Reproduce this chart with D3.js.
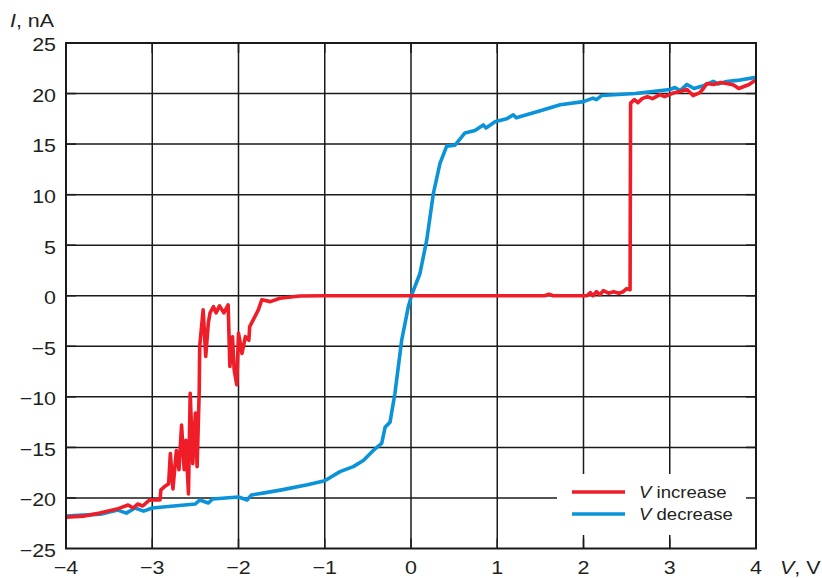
<!DOCTYPE html>
<html>
<head>
<meta charset="utf-8">
<script src="https://cdn.jsdelivr.net/npm/d3@7/dist/d3.min.js"></script>
<style>
  html, body { margin: 0; padding: 0; background: #fff; }
  svg { display: block; font-family: "Liberation Sans", Arial, Helvetica, sans-serif; }
</style>
</head>
<body>
<svg id="chart" width="822" height="578"></svg>
<script>
// Current–voltage sweep: forward (V increase) and reverse (V decrease) branches.
const xTicks = [-4, -3, -2, -1, 0, 1, 2, 3, 4];
const yTicks = [-25, -20, -15, -10, -5, 0, 5, 10, 15, 20, 25];

// V increase branch: V (volts) and I (nA)
const increaseV = [-4.0, -3.8, -3.61, -3.41, -3.28, -3.22, -3.17, -3.11, -3.046, -3.026, -2.95, -2.91, -2.90, -2.86, -2.81, -2.79, -2.76, -2.72, -2.69, -2.66, -2.63, -2.61, -2.58, -2.56, -2.53, -2.50, -2.48, -2.455, -2.45, -2.41, -2.38, -2.35, -2.33, -2.29, -2.26, -2.22, -2.17, -2.12, -2.10, -2.07, -2.05, -2.02, -2.0, -1.96, -1.92, -1.88, -1.87, -1.81, -1.77, -1.73, -1.63, -1.52, -1.29, -1.0, 0.0, 1.0, 1.55, 1.6, 1.65, 2.04, 2.08, 2.11, 2.15, 2.19, 2.23, 2.29, 2.35, 2.41, 2.46, 2.50, 2.54, 2.546, 2.59, 2.63, 2.68, 2.74, 2.80, 2.887, 2.94, 3.04, 3.12, 3.20, 3.27, 3.35, 3.39, 3.43, 3.51, 3.59, 3.66, 3.74, 3.80, 3.86, 3.92, 3.97, 4.0];
const increaseI = [-21.9, -21.8, -21.5, -21.1, -20.7, -21.0, -20.6, -20.8, -20.3, -20.2, -20.2, -20.2, -19.2, -18.9, -18.6, -15.6, -19.1, -15.3, -17.2, -12.8, -17.2, -14.3, -19.6, -9.65, -16.6, -11.6, -16.9, -9.3, -5.0, -1.4, -6.0, -2.7, -1.7, -1.08, -1.7, -1.0, -1.7, -0.9, -7.0, -4.05, -7.35, -8.8, -3.7, -5.7, -4.05, -4.4, -3.06, -2.07, -1.4, -0.4, -0.58, -0.25, -0.02, 0.0, 0.0, 0.0, 0.0, 0.15, 0.0, 0.0, 0.3, 0.0, 0.4, 0.1, 0.5, 0.25, 0.4, 0.25, 0.4, 0.7, 0.6, 19.05, 19.4, 19.1, 19.5, 19.7, 19.5, 19.9, 19.7, 20.05, 20.2, 20.4, 19.8, 20.1, 20.5, 21.0, 20.9, 21.1, 21.0, 20.85, 20.5, 20.7, 20.9, 21.2, 21.3];

// V decrease branch: V (volts) and I (nA)
const decreaseV = [-4.0, -3.8, -3.6, -3.4, -3.3, -3.2, -3.1, -3.0, -2.75, -2.5, -2.45, -2.35, -2.3, -2.0, -1.9, -1.85, -1.7, -1.5, -1.2, -1.0, -0.823, -0.669, -0.553, -0.437, -0.34, -0.30, -0.243, -0.186, -0.108, -0.031, 0.008, 0.104, 0.182, 0.259, 0.336, 0.414, 0.51, 0.626, 0.742, 0.838, 0.87, 0.974, 1.11, 1.186, 1.22, 1.3, 1.5, 1.73, 1.998, 2.11, 2.15, 2.21, 2.6, 3.003, 3.06, 3.12, 3.20, 3.28, 3.4, 3.505, 3.56, 3.66, 3.78, 4.0];
const decreaseI = [-21.8, -21.7, -21.6, -21.2, -21.5, -21.0, -21.3, -21.0, -20.8, -20.6, -20.2, -20.5, -20.1, -19.9, -20.2, -19.7, -19.5, -19.2, -18.7, -18.3, -17.4, -16.9, -16.3, -15.3, -14.6, -13.0, -12.5, -9.65, -4.4, -1.08, 0.08, 2.2, 5.5, 10.1, 13.1, 14.8, 14.9, 16.1, 16.35, 16.9, 16.6, 17.2, 17.5, 17.9, 17.6, 17.8, 18.3, 18.9, 19.2, 19.55, 19.4, 19.8, 20.0, 20.4, 20.6, 20.3, 20.9, 20.5, 20.8, 21.2, 20.95, 21.2, 21.3, 21.6];

const legendLabels = ["increase", "decrease"];
const colors = ["#ee1d27", "#0a93d8"];

const svg = d3.select("#chart");
const plotL = 66, plotR = 756, plotT = 43, plotB = 548.5;
const ink = "#231f20";
const labelSize = 18.5, stretch = 1.16;

const x = d3.scaleLinear().domain([-4, 4]).range([plotL, plotR]);
const y = d3.scaleLinear().domain([-25, 25]).range([plotB, plotT]);

// grid
const grid = svg.append("g").attr("stroke", "#1a1a1a").attr("stroke-width", 1.5);
grid.selectAll("line.v").data(xTicks.slice(1, -1)).join("line").attr("class", "v")
  .attr("x1", d => x(d)).attr("x2", d => x(d)).attr("y1", plotT).attr("y2", plotB);
grid.selectAll("line.h").data(yTicks.slice(1, -1)).join("line").attr("class", "h")
  .attr("y1", d => y(d)).attr("y2", d => y(d)).attr("x1", plotL).attr("x2", plotR);

// curves
svg.append("clipPath").attr("id", "plot").append("rect")
  .attr("x", plotL).attr("y", plotT).attr("width", plotR - plotL).attr("height", plotB - plotT);

const line = d3.line().x(d => x(d[0])).y(d => y(d[1]));
const series = [
  d3.zip(decreaseV, decreaseI),
  d3.zip(increaseV, increaseI)
];
const seriesColors = [colors[1], colors[0]];
svg.append("g").attr("clip-path", "url(#plot)")
  .selectAll("path").data(series).join("path")
  .attr("d", line)
  .attr("fill", "none")
  .attr("stroke", (d, i) => seriesColors[i])
  .attr("stroke-width", 3.6)
  .attr("stroke-linejoin", "round")
  .attr("stroke-linecap", "round");

// legend panel
const lg = svg.append("g");
lg.append("rect").attr("x", 557).attr("y", 474).attr("width", plotR - 557).attr("height", 61).attr("fill", "#fff");
const legendRows = lg.selectAll("g.row").data(legendLabels).join("g").attr("class", "row")
  .attr("transform", (d, i) => `translate(0, ${492 + i * 22})`);
legendRows.append("line")
  .attr("x1", 572).attr("x2", 625).attr("y1", 0).attr("y2", 0)
  .attr("stroke", (d, i) => colors[i]).attr("stroke-width", 3.6);
const lt = legendRows.append("text")
  .attr("transform", `translate(639, 5.5) scale(${stretch}, 1)`)
  .attr("font-size", 16).attr("fill", ink);
lt.append("tspan").attr("font-style", "italic").text("V");
lt.append("tspan").text(d => " " + d);

// inward tick marks on all sides
const ticks = svg.append("g").attr("stroke", "#1a1a1a").attr("stroke-width", 1.5);
const tl = 10;
xTicks.slice(1, -1).forEach(v => {
  ticks.append("line").attr("x1", x(v)).attr("x2", x(v)).attr("y1", plotB).attr("y2", plotB - tl);
  ticks.append("line").attr("x1", x(v)).attr("x2", x(v)).attr("y1", plotT).attr("y2", plotT + tl);
});
yTicks.slice(1, -1).forEach(v => {
  ticks.append("line").attr("y1", y(v)).attr("y2", y(v)).attr("x1", plotL).attr("x2", plotL + tl);
  ticks.append("line").attr("y1", y(v)).attr("y2", y(v)).attr("x1", plotR).attr("x2", plotR - tl);
});

// frame
svg.append("rect").attr("x", plotL).attr("y", plotT).attr("width", plotR - plotL).attr("height", plotB - plotT)
  .attr("fill", "none").attr("stroke", "#1a1a1a").attr("stroke-width", 2);

// tick labels
const fmt = d => d < 0 ? "\u2212" + Math.abs(d) : String(d);
svg.append("g").selectAll("text").data(yTicks).join("text")
  .attr("transform", d => `translate(56, ${y(d) + 8.3}) scale(${stretch}, 1)`)
  .attr("text-anchor", "end").attr("font-size", labelSize).attr("fill", ink)
  .text(fmt);
svg.append("g").selectAll("text").data(xTicks).join("text")
  .attr("transform", d => `translate(${x(d)}, 574) scale(${stretch}, 1)`)
  .attr("text-anchor", "middle").attr("font-size", labelSize).attr("fill", ink)
  .text(fmt);

// axis titles
const yt = svg.append("text").attr("transform", `translate(10, 27) scale(${stretch}, 1)`)
  .attr("font-size", labelSize).attr("fill", ink);
yt.append("tspan").attr("font-style", "italic").text("I");
yt.append("tspan").text(", nA");
const xt = svg.append("text").attr("transform", `translate(780, 574) scale(${stretch}, 1)`)
  .attr("font-size", labelSize).attr("fill", ink);
xt.append("tspan").attr("font-style", "italic").text("V");
xt.append("tspan").text(", V");
</script>
</body>
</html>
